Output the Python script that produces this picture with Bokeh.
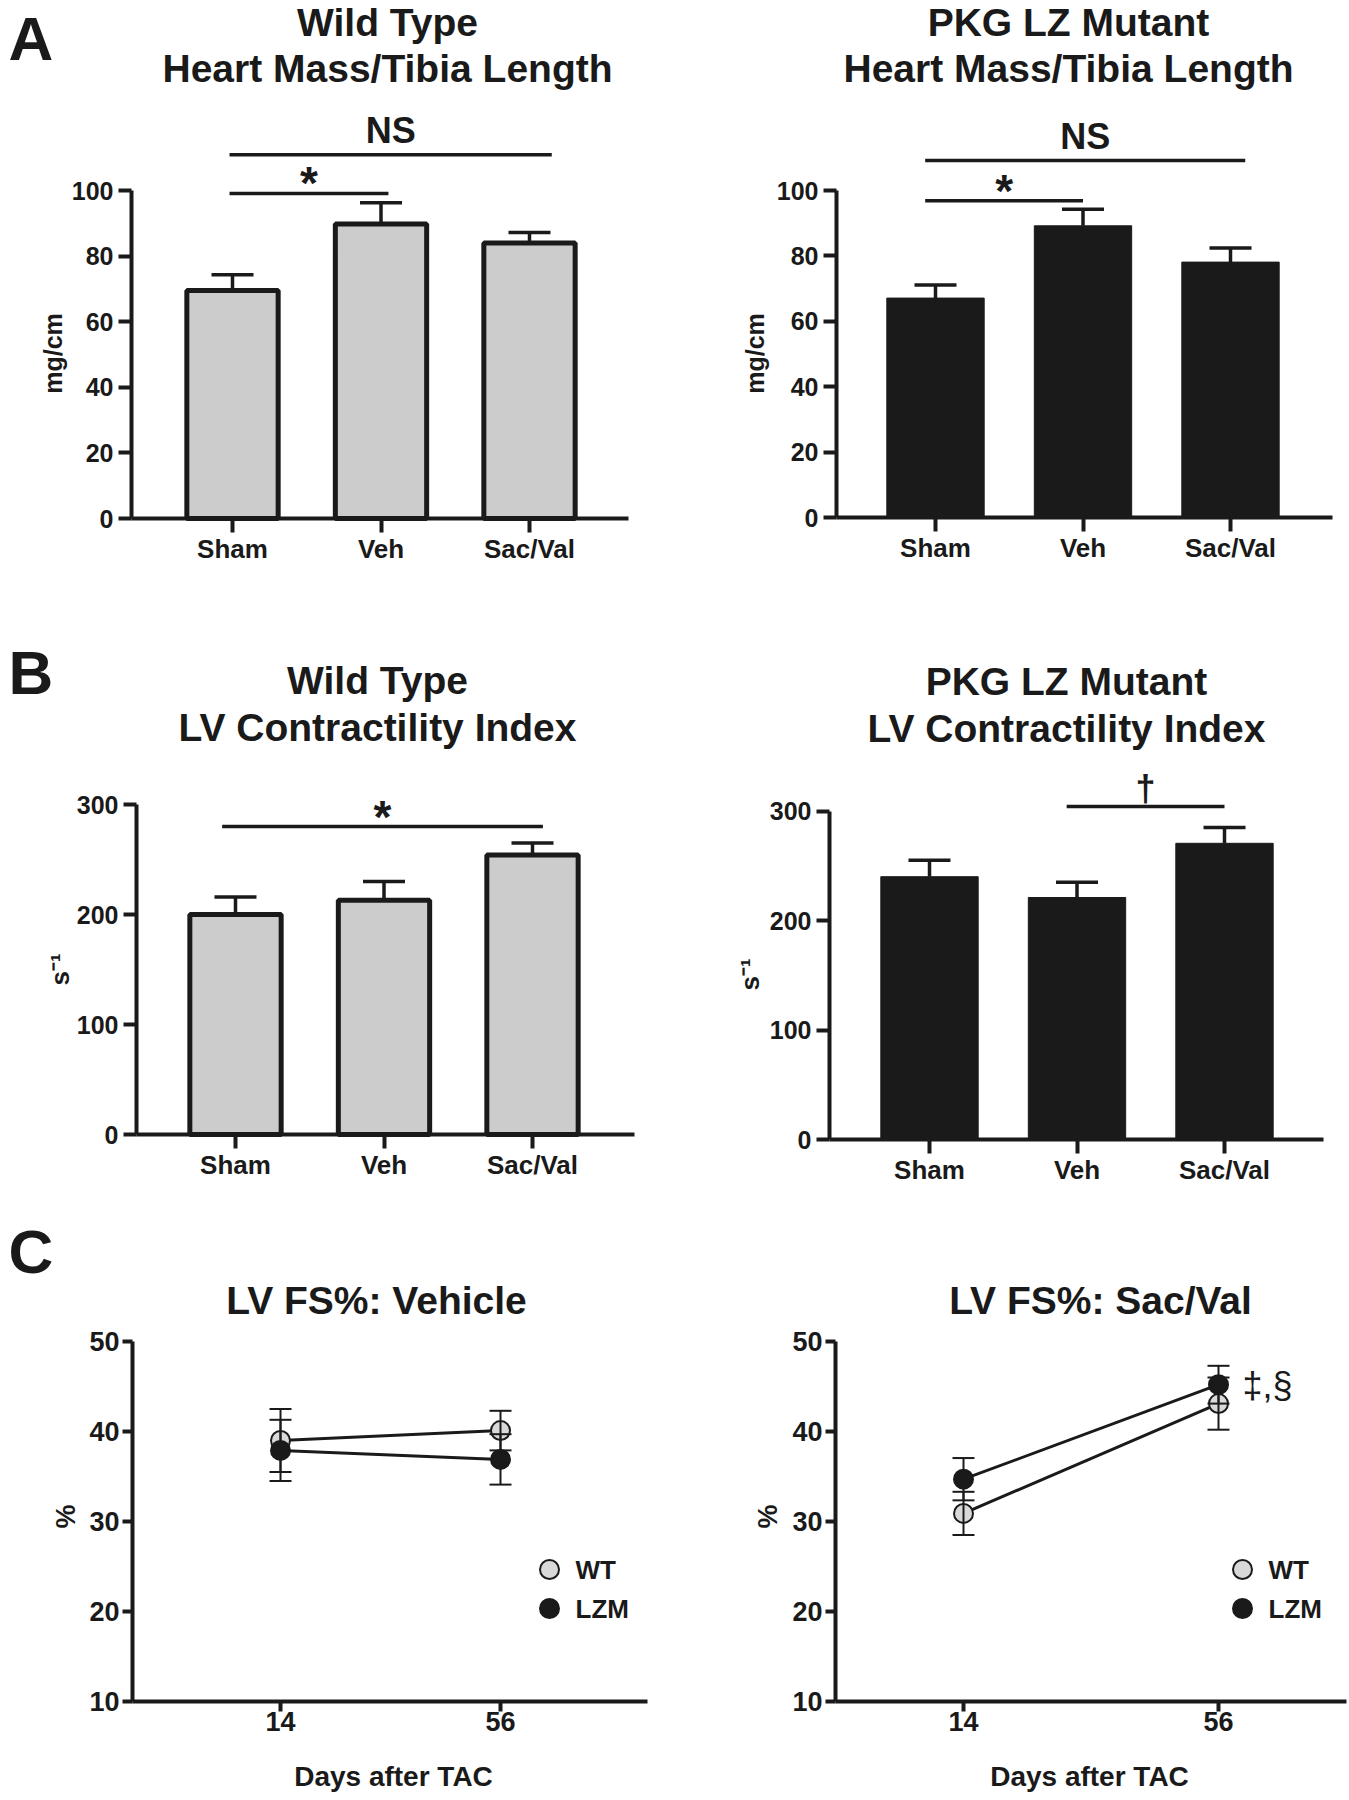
import math
from bokeh.plotting import figure
from bokeh.models import (Range1d, FixedTicker, Label, Whisker, ColumnDataSource, TeeHead,
                          LinearAxis)
from bokeh.layouts import column, row
from bokeh.embed import file_html
from bokeh.resources import INLINE

FONT = "Liberation Sans"
INK = "#1a1a1a"
WT_FILL = "#cccccc"
WT_MARK = "#d9d9d9"

# ---------------- data ----------------
groups = ["Sham", "Veh", "Sac/Val"]

hm_wt = [69.5, 89.8, 84.0]
hm_wt_sem = [4.8, 6.5, 3.2]
hm_lzm = [67.1, 89.2, 78.1]
hm_lzm_sem = [4.0, 5.1, 4.3]

ci_wt = [200, 213, 254]
ci_wt_sem = [16, 17, 11]
ci_lzm = [240, 221, 270.5]
ci_lzm_sem = [15, 14, 14.5]

days = [14, 56]
fs_veh_wt = [39.0, 40.1]
fs_veh_wt_sem = [3.5, 2.2]
fs_veh_lzm = [37.9, 36.9]
fs_veh_lzm_sem = [3.4, 2.8]
fs_sv_wt = [30.9, 43.1]
fs_sv_wt_sem = [2.4, 2.9]
fs_sv_lzm = [34.7, 45.2]
fs_sv_lzm_sem = [2.35, 2.1]

hm_ticks = [0, 20, 40, 60, 80, 100]
ci_ticks = [0, 100, 200, 300]
fs_ticks = [10, 20, 30, 40, 50]

legend_labels = ["WT", "LZM"]

# significance brackets: from group, to group, level, mark
hm_wt_sig_from = ["Sham", "Sham"]
hm_wt_sig_to = ["Veh", "Sac/Val"]
hm_wt_sig_level = [99.1, 110.9]
hm_wt_sig_text = ["*", "NS"]

hm_lzm_sig_from = ["Sham", "Sham"]
hm_lzm_sig_to = ["Veh", "Sac/Val"]
hm_lzm_sig_level = [96.9, 109.2]
hm_lzm_sig_text = ["*", "NS"]

ci_wt_sig_from = ["Sham"]
ci_wt_sig_to = ["Sac/Val"]
ci_wt_sig_level = [280]
ci_wt_sig_text = ["*"]

ci_lzm_sig_from = ["Veh"]
ci_lzm_sig_to = ["Sac/Val"]
ci_lzm_sig_level = [304]
ci_lzm_sig_text = ["\u2020"]

sv_note = "\u2021,\u00a7"

# bracket end overhang (style, in category widths): (left end, right end) per bracket
hm_wt_pads = [(-0.02, 0.05), (-0.02, 0.15)]
hm_lzm_pads = [(-0.07, 0.0), (-0.07, 0.1)]
ci_wt_pads = [(-0.09, 0.07)]
ci_lzm_pads = [(-0.07, 0.0)]


# ---------------- layout helpers ----------------
class Geo:
    """box = figure box in page px (left, top, width, height); anchors map values to px."""
    def __init__(self, box, xa, xb, ya, yb, yaxis_px, xaxis_end_px):
        L, T, W, H = box
        self.box = box
        self.sx = (xb[1] - xa[1]) / (xb[0] - xa[0])
        self.x0 = xa[0] - (xa[1] - L) / self.sx
        self.x1 = xa[0] + (L + W - xa[1]) / self.sx
        self.sy = (ya[1] - yb[1]) / (yb[0] - ya[0])
        self.y0 = ya[0] - (T + H - ya[1]) / self.sy
        self.y1 = ya[0] + (ya[1] - T) / self.sy
        self.bottom = T + H
        self.left = L
        self.yaxis_px = yaxis_px
        self.xaxis_end_px = xaxis_end_px

    def X(self, px):
        return self.x0 + (px - self.left) / self.sx

    def Y(self, py):
        return self.y0 + (self.bottom - py) / self.sy


GA_L = Geo((0, 0, 674, 600), (1, 232), (3, 529), (0, 518), (100, 190), 131, 628)
GA_R = Geo((674, 0, 675, 600), (1, 935), (3, 1230), (0, 517), (100, 190), 836, 1332)
GB_L = Geo((0, 600, 674, 590), (1, 235), (3, 532), (0, 1134), (300, 804), 136, 634)
GB_R = Geo((674, 600, 675, 590), (1, 929), (3, 1224), (0, 1139), (300, 810.5), 829, 1323)
GC_L = Geo((0, 1190, 674, 610), (14, 280), (56, 500), (10, 1701), (50, 1341), 132, 647)
GC_R = Geo((674, 1190, 675, 610), (14, 963), (56, 1218), (10, 1701), (50, 1341), 835, 1346)


def make_fig(g, xticks, yticks, xover=None, tick_font=25, xtick_font=26,
             xtick_out=14, ytick_out=13, xstand=1, ystand=5):
    L, T, W, H = g.box
    p = figure(width=W, height=H, title=None, output_backend="svg", toolbar_location=None,
               x_range=Range1d(g.x0, g.x1), y_range=Range1d(g.y0, g.y1),
               x_axis_location=None, y_axis_location=None,
               min_border_left=0, min_border_right=0, min_border_top=0, min_border_bottom=0,
               background_fill_color="white", border_fill_color="white")
    p.outline_line_color = None
    p.xgrid.visible = False
    p.ygrid.visible = False
    xa = LinearAxis(fixed_location=yticks[0], bounds=(g.X(g.yaxis_px), g.X(g.xaxis_end_px)),
                    ticker=FixedTicker(ticks=xticks))
    ya = LinearAxis(fixed_location=g.X(g.yaxis_px), bounds=(yticks[0], yticks[-1]),
                    ticker=FixedTicker(ticks=yticks))
    for ax in (xa, ya):
        ax.axis_line_width = 4
        ax.axis_line_color = INK
        ax.major_tick_line_width = 4
        ax.major_tick_line_color = INK
        ax.major_tick_in = 0
        ax.minor_tick_line_color = None
        ax.major_label_text_font = FONT
        ax.major_label_text_font_style = "bold"
        ax.major_label_text_color = INK
    xa.major_tick_out = xtick_out
    ya.major_tick_out = ytick_out
    xa.major_label_text_font_size = f"{xtick_font}px"
    ya.major_label_text_font_size = f"{tick_font}px"
    xa.major_label_standoff = xstand
    ya.major_label_standoff = ystand
    if xover:
        xa.major_label_overrides = xover
    p.add_layout(xa, "below")
    p.add_layout(ya, "left")
    return p


def add_text(p, g, text, px, py, size, align="center", style="bold", angle=0.0):
    # (px, py) is the visual centre line of the text
    p.add_layout(Label(x=g.X(px), y=g.Y(py), text=text, text_font=FONT,
                       text_font_size=f"{size}px", text_font_style=style,
                       text_align=align, text_baseline="middle", angle=angle,
                       text_color=INK))


SIG_GAP = {"*": 10, "NS": 24, "\u2020": 18}       # px above the bracket line
SIG_SIZE = {"*": 46, "NS": 36, "\u2020": 36}
CAP = 42


def bar_panel(g, vals, sems, fill, line_w, bar_w, yticks, sig_from, sig_to, sig_level,
              sig_text, pads):
    pos = list(range(1, len(groups) + 1))
    p = make_fig(g, pos, yticks, xover={i: c for i, c in zip(pos, groups)})
    idx = {c: i + 1 for i, c in enumerate(groups)}
    src = ColumnDataSource(dict(x=pos, top=vals, upper=[v + e for v, e in zip(vals, sems)]))
    p.vbar(x="x", top="top", bottom=0, width=bar_w, fill_color=fill, line_color=INK,
           line_width=line_w, source=src)
    p.add_layout(Whisker(source=src, base="x", lower="top", upper="upper", dimension="height",
                         line_width=3.5, line_color=INK, lower_head=None,
                         upper_head=TeeHead(size=CAP, line_width=3.5, line_color=INK),
                         level="glyph"))
    x0 = [idx[a] + pd[0] for a, pd in zip(sig_from, pads)]
    x1 = [idx[b] + pd[1] for b, pd in zip(sig_to, pads)]
    p.segment(x0=x0, y0=sig_level, x1=x1, y1=sig_level, line_width=3.5, line_color=INK)
    for a, b, lv, t in zip(x0, x1, sig_level, sig_text):
        p.add_layout(Label(x=(a + b) / 2, y=lv + SIG_GAP[t] / g.sy, text=t, text_font=FONT,
                           text_font_size=f"{SIG_SIZE[t]}px", text_font_style="bold",
                           text_align="center", text_baseline="middle", text_color=INK))
    return p


def line_panel(g, wt, wt_sem, lzm, lzm_sem):
    p = make_fig(g, days, fs_ticks, tick_font=27, xtick_font=27,
                 xtick_out=10, ytick_out=10, xstand=0, ystand=3)
    srcs = []
    for vals, sems in ((wt, wt_sem), (lzm, lzm_sem)):
        srcs.append(ColumnDataSource(dict(x=days, y=vals,
                                          lower=[v - e for v, e in zip(vals, sems)],
                                          upper=[v + e for v, e in zip(vals, sems)])))
    for src in srcs:
        p.line("x", "y", source=src, line_width=3, line_color=INK)
    for src, fill in zip(srcs, (WT_MARK, INK)):
        p.scatter("x", "y", source=src, size=19, marker="circle", fill_color=fill,
                  line_color=INK, line_width=2)
        p.add_layout(Whisker(source=src, base="x", lower="lower", upper="upper",
                             dimension="height", line_width=2, line_color=INK,
                             upper_head=TeeHead(size=22, line_width=2, line_color=INK),
                             lower_head=TeeHead(size=22, line_width=2, line_color=INK),
                             level="annotation"))
    return p


# ---------------- panel A ----------------
pA1 = bar_panel(GA_L, hm_wt, hm_wt_sem, WT_FILL, 5, 0.615, hm_ticks,
                hm_wt_sig_from, hm_wt_sig_to, hm_wt_sig_level, hm_wt_sig_text, hm_wt_pads)
add_text(pA1, GA_L, "A", 8, 38, 62, align="left")
add_text(pA1, GA_L, "Wild Type", 387, 22, 39)
add_text(pA1, GA_L, "Heart Mass/Tibia Length", 387, 68, 39)
add_text(pA1, GA_L, "mg/cm", 52, 353, 25, angle=math.pi / 2)

pA2 = bar_panel(GA_R, hm_lzm, hm_lzm_sem, INK, 1, 0.66, hm_ticks,
                hm_lzm_sig_from, hm_lzm_sig_to, hm_lzm_sig_level, hm_lzm_sig_text, hm_lzm_pads)
add_text(pA2, GA_R, "PKG LZ Mutant", 1068, 22, 39)
add_text(pA2, GA_R, "Heart Mass/Tibia Length", 1068, 68, 39)
add_text(pA2, GA_R, "mg/cm", 754, 353, 25, angle=math.pi / 2)

# ---------------- panel B ----------------
pB1 = bar_panel(GB_L, ci_wt, ci_wt_sem, WT_FILL, 5, 0.615, ci_ticks,
                ci_wt_sig_from, ci_wt_sig_to, ci_wt_sig_level, ci_wt_sig_text, ci_wt_pads)
add_text(pB1, GB_L, "B", 8, 672, 62, align="left")
add_text(pB1, GB_L, "Wild Type", 377, 680, 39)
add_text(pB1, GB_L, "LV Contractility Index", 377, 727, 39)
add_text(pB1, GB_L, "s\u207b\u00b9", 59, 969, 26, angle=math.pi / 2)

pB2 = bar_panel(GB_R, ci_lzm, ci_lzm_sem, INK, 1, 0.66, ci_ticks,
                ci_lzm_sig_from, ci_lzm_sig_to, ci_lzm_sig_level, ci_lzm_sig_text, ci_lzm_pads)
add_text(pB2, GB_R, "PKG LZ Mutant", 1066, 681, 39)
add_text(pB2, GB_R, "LV Contractility Index", 1066, 728, 39)
add_text(pB2, GB_R, "s\u207b\u00b9", 749, 974, 26, angle=math.pi / 2)

# ---------------- panel C ----------------
pC1 = line_panel(GC_L, fs_veh_wt, fs_veh_wt_sem, fs_veh_lzm, fs_veh_lzm_sem)
add_text(pC1, GC_L, "C", 8, 1251, 62, align="left")
add_text(pC1, GC_L, "LV FS%: Vehicle", 376, 1300, 39)
add_text(pC1, GC_L, "%", 65, 1516, 27, angle=math.pi / 2)
add_text(pC1, GC_L, "Days after TAC", 393, 1776, 28)

pC2 = line_panel(GC_R, fs_sv_wt, fs_sv_wt_sem, fs_sv_lzm, fs_sv_lzm_sem)
add_text(pC2, GC_R, "LV FS%: Sac/Val", 1100, 1300, 39)
add_text(pC2, GC_R, "%", 767, 1516, 27, angle=math.pi / 2)
add_text(pC2, GC_R, "Days after TAC", 1089, 1776, 28)
pC2.add_layout(Label(x=days[-1] + 24 / GC_R.sx, y=fs_sv_lzm[-1] - 1 / GC_R.sy, text=sv_note,
                     text_font=FONT, text_font_size="36px", text_font_style="normal",
                     text_align="left", text_baseline="middle", text_color=INK))

# manual legends
for p, g, mx, tx in ((pC1, GC_L, 549, 575), (pC2, GC_R, 1242, 1268)):
    ys = [1569, 1608]
    fills = [WT_MARK, INK]
    p.scatter(x=[g.X(mx)] * len(legend_labels), y=[g.Y(v) for v in ys], size=19,
              marker="circle", fill_color=fills, line_color=INK, line_width=2)
    for lab, yy in zip(legend_labels, ys):
        add_text(p, g, lab, tx, yy, 26, align="left")

layout = column(row(pA1, pA2), row(pB1, pB2), row(pC1, pC2))
open("out.html", "w").write(file_html(layout, INLINE))
